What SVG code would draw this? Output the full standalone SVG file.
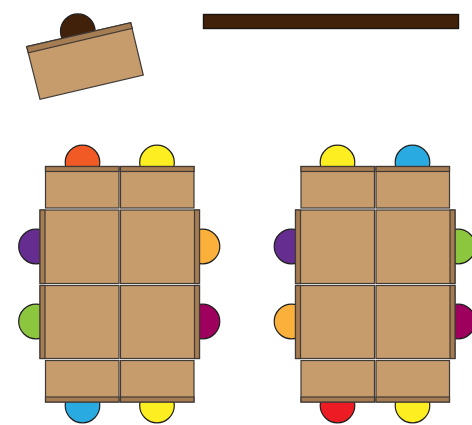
<svg xmlns="http://www.w3.org/2000/svg" width="472" height="425" viewBox="0 0 472 425">
<style>
.desk{fill:#c69c6d;stroke:#3f3a36;stroke-width:1.200}
.strip{fill:#a67c52;stroke:#3f3a36;stroke-width:1.200}
.seat{stroke:#1f1f1f;stroke-width:1.200}
</style>
<rect width="472" height="425" fill="#fff"/>
<g id="whiteboard"><rect x="203.500" y="14.500" width="255" height="14" fill="#42210b" stroke="#1a1410" stroke-width="1.400"/></g>
<g id="teacher"><circle class="seat" cx="77.800" cy="31.200" r="17.300" fill="#42210b"/>
<polygon class="desk" points="26.700,46.700 130.700,22.700 143.300,75 40,99.300"/>
<polygon class="strip" points="26.700,46.700 130.700,22.700 132.300,28.300 28.300,52.800"/></g>
<g id="seats-left">
<circle id="s1" class="seat" cx="82.500" cy="162.500" r="17.300" fill="#f15a24"/>
<circle id="s2" class="seat" cx="157" cy="162.500" r="17.300" fill="#fcee21"/>
<circle id="s3" class="seat" cx="36" cy="246.500" r="17.300" fill="#662d91"/>
<circle id="s4" class="seat" cx="36" cy="321.500" r="17.300" fill="#8cc63f"/>
<circle id="s5" class="seat" cx="202.500" cy="246.500" r="17.300" fill="#fbb03b"/>
<circle id="s6" class="seat" cx="202.500" cy="321.500" r="17.300" fill="#9e005d"/>
<circle id="s7" class="seat" cx="82.500" cy="405.500" r="17.300" fill="#29abe2"/>
<circle id="s8" class="seat" cx="157" cy="405.500" r="17.300" fill="#fcee21"/>
</g>
<g id="seats-right">
<circle id="s9" class="seat" cx="337.500" cy="162.500" r="17.300" fill="#fcee21"/>
<circle id="s10" class="seat" cx="412.500" cy="162.500" r="17.300" fill="#29abe2"/>
<circle id="s11" class="seat" cx="291.500" cy="246.500" r="17.300" fill="#662d91"/>
<circle id="s12" class="seat" cx="291.500" cy="321.500" r="17.300" fill="#fbb03b"/>
<circle id="s13" class="seat" cx="458" cy="246.500" r="17.300" fill="#8cc63f"/>
<circle id="s14" class="seat" cx="458" cy="321.500" r="17.300" fill="#9e005d"/>
<circle id="s15" class="seat" cx="337.500" cy="405.500" r="17.300" fill="#ed1c24"/>
<circle id="s16" class="seat" cx="412.500" cy="405.500" r="17.300" fill="#fcee21"/>
</g>
<g id="desks-left">
<g id="d1"><rect class="desk" x="45.500" y="166.500" width="73.500" height="41.500"/><rect class="strip" x="45.500" y="166.500" width="73.500" height="5"/></g>
<g id="d2"><rect class="desk" x="120.500" y="166.500" width="73.500" height="41.500"/><rect class="strip" x="120.500" y="166.500" width="73.500" height="5"/></g>
<g id="d3"><rect class="desk" x="40" y="210" width="79" height="73.500"/><rect class="strip" x="40" y="210" width="5" height="73.500"/></g>
<g id="d4"><rect class="desk" x="120.500" y="210" width="79" height="73.500"/><rect class="strip" x="194.500" y="210" width="5" height="73.500"/></g>
<g id="d5"><rect class="desk" x="40" y="285.500" width="79" height="73"/><rect class="strip" x="40" y="285.500" width="5" height="73"/></g>
<g id="d6"><rect class="desk" x="120.500" y="285.500" width="79" height="73"/><rect class="strip" x="194.500" y="285.500" width="5" height="73"/></g>
<g id="d7"><rect class="desk" x="45.500" y="360.500" width="73.500" height="41.500"/><rect class="strip" x="45.500" y="397" width="73.500" height="5"/></g>
<g id="d8"><rect class="desk" x="120.500" y="360.500" width="73.500" height="41.500"/><rect class="strip" x="120.500" y="397" width="73.500" height="5"/></g>
</g>
<g id="desks-right">
<g id="d9"><rect class="desk" x="301" y="166.500" width="73.500" height="41.500"/><rect class="strip" x="301" y="166.500" width="73.500" height="5"/></g>
<g id="d10"><rect class="desk" x="376" y="166.500" width="73.500" height="41.500"/><rect class="strip" x="376" y="166.500" width="73.500" height="5"/></g>
<g id="d11"><rect class="desk" x="295.500" y="210" width="79" height="73.500"/><rect class="strip" x="295.500" y="210" width="5" height="73.500"/></g>
<g id="d12"><rect class="desk" x="376" y="210" width="79" height="73.500"/><rect class="strip" x="450" y="210" width="5" height="73.500"/></g>
<g id="d13"><rect class="desk" x="295.500" y="285.500" width="79" height="73"/><rect class="strip" x="295.500" y="285.500" width="5" height="73"/></g>
<g id="d14"><rect class="desk" x="376" y="285.500" width="79" height="73"/><rect class="strip" x="450" y="285.500" width="5" height="73"/></g>
<g id="d15"><rect class="desk" x="301" y="360.500" width="73.500" height="41.500"/><rect class="strip" x="301" y="397" width="73.500" height="5"/></g>
<g id="d16"><rect class="desk" x="376" y="360.500" width="73.500" height="41.500"/><rect class="strip" x="376" y="397" width="73.500" height="5"/></g>
</g>
<g id="connectors"/>
</svg>
